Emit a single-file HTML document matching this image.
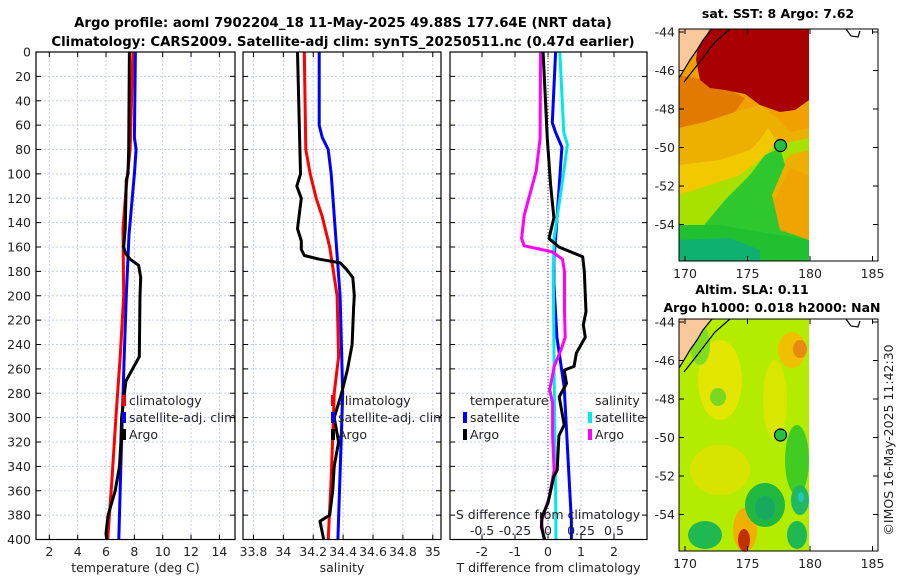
<!DOCTYPE html>
<html><head><meta charset="utf-8">
<style>
html,body{margin:0;padding:0;background:#fff;}
svg{display:block;font-family:"DejaVu Sans","Liberation Sans",sans-serif;}
</style></head>
<body>
<svg id="fig" width="900" height="580" viewBox="0 0 900 580" xmlns="http://www.w3.org/2000/svg">
  <text x="343" y="27" text-anchor="middle" font-size="13.3" font-weight="bold">Argo profile: aoml 7902204_18 11-May-2025 49.88S 177.64E (NRT data)</text>
  <text x="343" y="46" text-anchor="middle" font-size="13.3" font-weight="bold">Climatology: CARS2009. Satellite-adj clim: synTS_20250511.nc (0.47d earlier)</text>
  <g id="panels"></g>

  <!-- SST map -->
  <g>
    <text x="778" y="18" text-anchor="middle" font-size="12.5" font-weight="bold">sat. SST: 8 Argo: 7.62</text>
    <rect x="679" y="29" width="130" height="232" fill="#f0a400"/>
    <polygon points="679,29 809,29 809,140 679,160" fill="#f0a000"/>
    <polygon points="679,75 715,82 745,98 735,112 705,122 679,128" fill="#e27a00"/>
    <polygon points="679,128 705,122 735,112 760,105 777,118 790,132 809,128 809,175 790,168 775,200 740,190 700,195 679,200" fill="#eeb000"/>
    <polygon points="679,165 720,160 750,150 760,140 768,128 776,140 760,170 740,190 700,195 679,205" fill="#f2c800"/>
    <polygon points="679,195 710,185 740,175 760,160 775,145 809,138 809,150 790,155 782,165 770,195 778,230 800,240 809,240 809,261 679,261" fill="#a8e000"/>
    <polygon points="700,230 725,200 750,175 765,155 780,148 785,165 772,195 780,230 809,240 809,261 700,261" fill="#2ec82e"/>
    <polygon points="679,225 720,225 809,240 809,261 679,261" fill="#20c030"/>
    <polygon points="679,240 730,238 760,250 760,261 679,261" fill="#10b070"/>
    <polygon points="700,29 809,29 809,100 795,110 780,112 760,105 745,94 725,90 710,88 700,80 696,60" fill="#a80000"/>
    <polygon points="679,29 710,29 698,48 688,62 679,78" fill="#f9c89b"/>
    <path d="M712,29 L703,40 L697,50 L690,60 L684,70 L679,78 M730,29 L715,42 L705,55 L695,68 L684,82" fill="none" stroke="#000" stroke-width="1.2"/>
    <path d="M846,29 L851,36 L858,37 L860,31" fill="none" stroke="#000" stroke-width="1.2"/>
    <circle cx="780.5" cy="145.5" r="6" fill="#22c040" stroke="#000" stroke-width="1.2"/>
    <rect x="679" y="29" width="199" height="232" fill="none" stroke="#000" stroke-width="1"/>
    <g id="sstaxis"></g>
  </g>

  <!-- SLA map -->
  <g>
    <text x="752" y="294" text-anchor="middle" font-size="12.5" font-weight="bold">Altim. SLA: 0.11</text>
    <text x="772" y="312" text-anchor="middle" font-size="12.5" font-weight="bold">Argo h1000: 0.018 h2000: NaN</text>
    <rect x="679" y="319" width="130" height="232" fill="#b4ec00"/>
    <ellipse cx="720" cy="380" rx="22" ry="40" fill="#e2e600"/>
    <ellipse cx="792" cy="350" rx="14" ry="18" fill="#f0c000"/>
    <ellipse cx="800" cy="349" rx="7" ry="9" fill="#e88a10"/>
    <ellipse cx="775" cy="400" rx="12" ry="40" fill="#d8e600"/>
    <ellipse cx="720" cy="470" rx="30" ry="25" fill="#d8e400"/>
    <ellipse cx="745" cy="530" rx="12" ry="22" fill="#f0b000"/>
    <ellipse cx="744" cy="540" rx="6" ry="11" fill="#c03000"/>
    <ellipse cx="797" cy="460" rx="12" ry="35" fill="#40cc20"/>
    <ellipse cx="765" cy="505" rx="20" ry="22" fill="#20b840"/>
    <ellipse cx="765" cy="508" rx="10" ry="12" fill="#18a860"/>
    <ellipse cx="800" cy="500" rx="9" ry="15" fill="#20b860"/>
    <ellipse cx="801" cy="497" rx="3" ry="5" fill="#20c8c0"/>
    <ellipse cx="705" cy="535" rx="17" ry="14" fill="#20b850"/>
    <ellipse cx="797" cy="535" rx="10" ry="14" fill="#20b850"/>
    <ellipse cx="718" cy="397" rx="8" ry="9" fill="#7ad820"/>
    <ellipse cx="700" cy="345" rx="10" ry="20" fill="#80dc20"/>
    <polygon points="679,319 710,319 698,338 688,352 679,368" fill="#f9c89b"/>
    <path d="M712,319 L703,330 L697,340 L690,350 L684,360 L679,368 M730,319 L715,332 L705,345 L695,358 L684,372" fill="none" stroke="#000" stroke-width="1.2"/>
    <path d="M846,319 L851,326 L858,327 L860,321" fill="none" stroke="#000" stroke-width="1.2"/>
    <circle cx="780.5" cy="435" r="6" fill="#22c040" stroke="#000" stroke-width="1.2"/>
    <rect x="679" y="319" width="199" height="232" fill="none" stroke="#000" stroke-width="1"/>
    <g id="slaaxis"></g>
  </g>
  <text transform="translate(893,440) rotate(-90)" text-anchor="middle" font-size="12.5" fill="#222">©IMOS 16-May-2025 11:42:30</text>
</svg>
<script>
// ---------- data (depth in dbar) ----------
const tempDepth  = [0, 80, 100, 105, 145, 160, 165, 170, 175, 185, 200, 250, 270, 300, 320, 340, 360, 380, 395, 400];
const tempArgo   = [7.65, 7.6, 7.55, 7.43, 7.35, 7.25, 7.37, 7.7, 8.3, 8.45, 8.4, 8.35, 7.4, 7.1, 7.05, 6.95, 6.65, 6.15, 6.0, 6.05];
const climDepth  = [0, 80, 110, 145, 200, 250, 300, 350, 400];
const tempClim   = [7.9, 7.7, 7.43, 7.2, 7.25, 7.0, 6.7, 6.42, 6.12];
const satDepth   = [0, 70, 80, 100, 150, 200, 250, 300, 350, 400];
const tempSat    = [8.07, 8.0, 8.12, 8.0, 7.62, 7.43, 7.28, 7.15, 7.02, 6.9];

const salArgoDepth = [0, 100, 110, 120, 145, 155, 162, 167, 170, 173, 178, 185, 200, 210, 240, 260, 280, 300, 320, 340, 360, 380, 385, 400];
const salArgo      = [34.095, 34.115, 34.09, 34.12, 34.095, 34.12, 34.12, 34.14, 34.24, 34.38, 34.42, 34.465, 34.475, 34.47, 34.46, 34.43, 34.39, 34.34, 34.37, 34.34, 34.33, 34.31, 34.245, 34.27];
const salClimDepth = [0, 80, 100, 120, 135, 160, 200, 250, 280, 300, 350, 400];
const salClim      = [34.14, 34.15, 34.18, 34.22, 34.26, 34.31, 34.36, 34.37, 34.34, 34.335, 34.32, 34.3];
const salSatDepth  = [0, 60, 70, 80, 100, 150, 200, 280, 400];
const salSat       = [34.24, 34.24, 34.26, 34.3, 34.32, 34.35, 34.38, 34.397, 34.365];

const dTSatDepth  = [0, 58, 66, 78, 153, 170, 190, 234, 275, 385, 400];
const dTSat       = [0.23, 0.13, 0.23, 0.42, 0.23, 0.18, 0.18, 0.27, 0.49, 0.71, 0.71];
const dTArgoDepth = [0, 71, 109, 136, 153, 160, 168, 180, 213, 224, 234, 247, 258, 261, 272, 283, 306, 315, 343, 348, 370, 381, 390, 400];
const dTArgo      = [-0.15, -0.02, 0.08, 0.18, 0.03, 0.33, 1.05, 1.1, 1.15, 1.07, 1.13, 0.86, 0.79, 0.49, 0.56, 0.34, 0.49, 0.33, 0.28, 0.18, 0.0, -0.18, -0.2, -0.1];
const dSSatDepth  = [0, 66, 76, 98, 153, 180, 261, 385, 400];
const dSSat       = [0.089, 0.12, 0.147, 0.12, 0.046, 0.04, 0.046, 0.06, 0.06];
const dSArgoDepth = [0, 71, 98, 134, 153, 159, 164, 170, 180, 213, 234, 244, 258, 262, 277, 288, 315, 343, 365, 385, 400];
const dSArgo      = [-0.056, -0.06, -0.09, -0.18, -0.2, -0.18, 0.033, 0.11, 0.125, 0.125, 0.13, 0.1, 0.046, 0.04, 0.013, 0.035, 0.035, 0.046, 0.01, -0.05, -0.03];

const depthTicks = [0,20,40,60,80,100,120,140,160,180,200,220,240,260,280,300,320,340,360,380,400];
const tempTicks = [2,4,6,8,10,12,14];
const salTicks = [33.8,34,34.2,34.4,34.6,34.8,35];
const salTickLabels = ["33.8","34","34.2","34.4","34.6","34.8","35"];
const dTTicks = [-2,-1,0,1,2];
const dSTicks = [-0.5,-0.25,0,0.25,0.5];
const dSTickLabels = ["-0.5","-0.25","0","0.25","0.5"];
const latTicks = [-44,-46,-48,-50,-52,-54];
const lonTicks = [170,175,180,185];

// ---------- helpers ----------
const NS = "http://www.w3.org/2000/svg";
const root = document.getElementById('panels');
function mk(tag, attrs, parent){ const e=document.createElementNS(NS,tag); for(const k in attrs) e.setAttribute(k,attrs[k]); (parent||root).appendChild(e); return e; }
const Y0 = 52, Y1 = 539.5;
const yD = d => Y0 + d*(Y1-Y0)/400;

function panel(name, x0, x1, xmin, xmax, ticks, tickLabels, gridTicks, xlabel, showY){
  const sx = v => x0 + (v-xmin)/(xmax-xmin)*(x1-x0);
  const g = mk('g',{});
  
  
  gridTicks.forEach(t=>{ mk('line',{x1:sx(t),x2:sx(t),y1:Y0,y2:Y1,stroke:'#c8cff0','stroke-width':1,'stroke-dasharray':'2,2'},g); });
  depthTicks.forEach(d=>{ if(d>0&&d<400) mk('line',{x1:x0,x2:x1,y1:yD(d),y2:yD(d),stroke:'#c8cff0','stroke-width':1,'stroke-dasharray':'2,2'},g); });
  depthTicks.forEach(d=>{
    mk('line',{x1:x0,x2:x0+5,y1:yD(d),y2:yD(d),stroke:'#000'},g);
    mk('line',{x1:x1-5,x2:x1,y1:yD(d),y2:yD(d),stroke:'#000'},g);
    if(showY){ const t=mk('text',{x:x0-5,y:yD(d)+4.5,'text-anchor':'end','font-size':12.5,fill:'#222'},g); t.textContent=d; }
  });
  ticks.forEach((v,i)=>{
    mk('line',{x1:sx(v),x2:sx(v),y1:Y1,y2:Y1-5,stroke:'#000'},g);
    mk('line',{x1:sx(v),x2:sx(v),y1:Y0,y2:Y0+5,stroke:'#000'},g);
    const t=mk('text',{x:sx(v),y:556,'text-anchor':'middle','font-size':12.5,fill:'#222'},g); t.textContent=tickLabels[i];
  });
  const xl = mk('text',{x:(x0+x1)/2,y:572,'text-anchor':'middle','font-size':12.5,fill:'#222'},g);
  xl.textContent = xlabel;
  
  
  return {g, sx};
}
function line(p, sx, depths, vals, color, w, name){
  const pts = depths.map((d,i)=> sx(vals[i]).toFixed(1)+','+yD(d).toFixed(1)).join(' ');
  const e = mk('polyline',{points:pts,fill:'none',stroke:color,'stroke-width':w,'stroke-linejoin':'round'},p);
  
  
}
function frame(p,x0,x1){ mk('rect',{x:x0,y:Y0,width:x1-x0,height:Y1-Y0,fill:'none',stroke:'#000','stroke-width':1.2},p); }
function legendItem(p, x, y, color, label, name){
  mk('rect',{x:x,y:y-10,width:4,height:11,fill:color},p);
  const t = mk('text',{x:x+7,y:y,'font-size':12.5,fill:'#222'},p);
  t.textContent = label;
  
  
}

// Panel 1: temperature
const P1 = panel('temperature-panel', 36, 235, 1.06, 15.1, tempTicks, tempTicks.map(String), tempTicks, 'temperature (deg C)', true);
line(P1.g, P1.sx, climDepth, tempClim, '#f00', 3, 'temp-climatology-line');
line(P1.g, P1.sx, satDepth, tempSat, '#00f', 3, 'temp-satellite-line');
line(P1.g, P1.sx, tempDepth, tempArgo, '#000', 3, 'temp-argo-line');
legendItem(P1.g, 122, 405, '#f00', 'climatology', 'legend-climatology');
legendItem(P1.g, 122, 422, '#00f', 'satellite-adj. clim', 'legend-satellite-adj');
legendItem(P1.g, 122, 439, '#000', 'Argo', 'legend-argo');
frame(P1.g,36,235);

// Panel 2: salinity
const P2 = panel('salinity-panel', 243, 441, 33.73, 35.055, salTicks, salTickLabels, salTicks, 'salinity', false);
line(P2.g, P2.sx, salClimDepth, salClim, '#f00', 3, 'sal-climatology-line');
line(P2.g, P2.sx, salSatDepth, salSat, '#00f', 3, 'sal-satellite-line');
line(P2.g, P2.sx, salArgoDepth, salArgo, '#000', 3, 'sal-argo-line');
legendItem(P2.g, 331, 405, '#f00', 'climatology', 'legend2-climatology');
legendItem(P2.g, 331, 422, '#00f', 'satellite-adj. clim', 'legend2-satellite-adj');
legendItem(P2.g, 331, 439, '#000', 'Argo', 'legend2-argo');
frame(P2.g,243,441);
mk('rect',{x:442,y:400,width:7,height:30,fill:'#fff'});

// Panel 3: differences
const P3 = panel('difference-panel', 450, 647, -2.97, 3.0, dTTicks, dTTicks.map(String), dTTicks, 'T difference from climatology', false);
const sxS = v => P3.sx(v*4);
mk('line',{x1:P3.sx(0),x2:P3.sx(0),y1:Y0,y2:Y1,stroke:'#444','stroke-width':1,'stroke-dasharray':'1,2'},P3.g);
line(P3.g, P3.sx, dTSatDepth, dTSat, '#00f', 3, 'dT-satellite-line');
line(P3.g, sxS, dSSatDepth, dSSat, '#00e8e8', 3, 'dS-satellite-line');
line(P3.g, sxS, dSArgoDepth, dSArgo, '#f0f', 3, 'dS-argo-line');
line(P3.g, P3.sx, dTArgoDepth, dTArgo, '#000', 3, 'dT-argo-line');
{ const t=mk('text',{x:470,y:405,'font-size':12.5,fill:'#222'},P3.g); t.textContent='temperature';
   
  const s=mk('text',{x:595,y:405,'font-size':12.5,fill:'#222'},P3.g); s.textContent='salinity';
    }
legendItem(P3.g, 463, 422, '#00f', 'satellite', 'legend3-t-satellite');
legendItem(P3.g, 463, 439, '#000', 'Argo', 'legend3-t-argo');
legendItem(P3.g, 588, 422, '#00e8e8', 'satellite', 'legend3-s-satellite');
legendItem(P3.g, 588, 439, '#f0f', 'Argo', 'legend3-s-argo');
{ const t=mk('text',{x:548,y:519,'text-anchor':'middle','font-size':12.5,fill:'#222'},P3.g); t.textContent='S difference from climatology';
    }
dSTicks.forEach((v,i)=>{ const t=mk('text',{x:sxS(v),y:535,'text-anchor':'middle','font-size':12.5,fill:'#222'},P3.g); t.textContent=dSTickLabels[i]; });
frame(P3.g,450,647);

// Map axes
function mapAxes(gid, yTop, yBot){
  const g=document.getElementById(gid);
  const lat = v => yTop + 3 + (-44 - v)*19.25;
  const lon = v => 685 + (v-170)*12.5;
  latTicks.forEach(v=>{
    mk('line',{x1:679,x2:684,y1:lat(v),y2:lat(v),stroke:'#000'},g);
    mk('line',{x1:873,x2:878,y1:lat(v),y2:lat(v),stroke:'#000'},g);
    const t=mk('text',{x:675,y:lat(v)+4.5,'text-anchor':'end','font-size':12.5,fill:'#222'},g); t.textContent=v;
  });
  lonTicks.forEach(v=>{
    mk('line',{x1:lon(v),x2:lon(v),y1:yBot,y2:yBot-5,stroke:'#000'},g);
    mk('line',{x1:lon(v),x2:lon(v),y1:yTop,y2:yTop+5,stroke:'#000'},g);
    const t=mk('text',{x:lon(v),y:yBot+17,'text-anchor':'middle','font-size':12.5,fill:'#222'},g); t.textContent=v;
  });
}
mapAxes('sstaxis', 29, 261);
mapAxes('slaaxis', 319, 551);
</script>
</body></html>
